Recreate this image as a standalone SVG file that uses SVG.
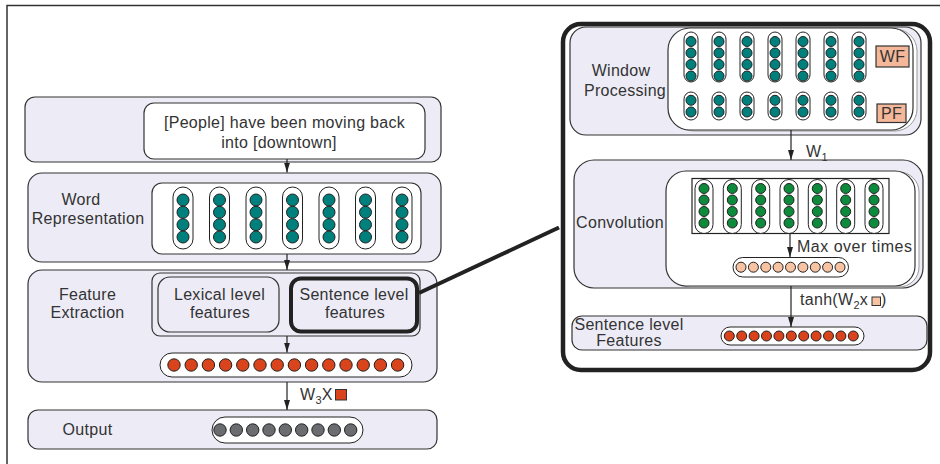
<svg xmlns="http://www.w3.org/2000/svg" xmlns:xlink="http://www.w3.org/1999/xlink" width="940" height="464" viewBox="0 0 940 464">
<style>
text{font-family:"Liberation Sans","DejaVu Sans",Arial,sans-serif;font-size:16px;fill:#333;letter-spacing:0.3px}
.mid{text-anchor:middle}
.sub{font-size:11px}
.lav{fill:#EDECF6;stroke:#333;stroke-width:1.2}
.wht{fill:#fff;stroke:#333;stroke-width:1.2}
.shd{fill:#fff;stroke:#999;stroke-width:1}
.pill{fill:#fff;stroke:#222;stroke-width:1}
.teal{fill:#00807C;stroke:#222;stroke-width:1}
.grn{fill:#0D8A3C;stroke:#222;stroke-width:1}
.red{fill:#D9441C;stroke:#222;stroke-width:1}
.gry{fill:#6B6C70;stroke:#222;stroke-width:1}
.pch{fill:#F7C3A3;stroke:#222;stroke-width:1}
.tag{fill:#F4B799;stroke:#333;stroke-width:1.2}
.arr{stroke:#222;stroke-width:1.2;fill:none;marker-end:url(#ah)}
</style>
<defs>
<marker id="ah" viewBox="0 0 10 6" refX="10" refY="3" markerWidth="10" markerHeight="6" markerUnits="userSpaceOnUse" orient="auto"><path d="M0,0 L10,3 L0,6 z" fill="#222"/></marker>
<g id="wcol"><rect x="-10" y="0" width="20" height="62" rx="10" class="pill"/><circle cy="13" r="6" class="teal"/><circle cy="25.3" r="6" class="teal"/><circle cy="37.7" r="6" class="teal"/><circle cy="50" r="6" class="teal"/></g>
<g id="wincol"><rect x="-7" y="0" width="14" height="50" rx="7" class="pill"/><circle cy="9.5" r="5" class="teal"/><circle cy="21" r="5" class="teal"/><circle cy="32.5" r="5" class="teal"/><circle cy="44" r="5" class="teal"/></g>
<g id="poscol"><rect x="-7" y="0" width="14" height="28" rx="7" class="pill"/><circle cy="8.3" r="5" class="teal"/><circle cy="20" r="5" class="teal"/></g>
<g id="convcol"><rect x="-9" y="0" width="18" height="54" rx="9" class="pill"/><circle cy="9" r="5" class="grn"/><circle cy="20.5" r="5" class="grn"/><circle cy="32" r="5" class="grn"/><circle cy="43.5" r="5" class="grn"/></g>
</defs>

<path id="frame" d="M7,464 V5.5 H940" fill="none" stroke="#333" stroke-width="1.5"/>

<g id="n-input">
<rect x="25" y="97" width="416" height="65" rx="10" class="lav"/>
<rect x="144" y="103" width="281" height="56" rx="10" class="wht"/>
<text x="284.5" y="128" class="mid">[People] have been moving back</text>
<text x="279" y="147.5" class="mid">into [downtown]</text>
</g>

<g id="n-wordrep">
<rect x="28" y="173" width="413" height="89" rx="14" class="lav"/>
<text x="81" y="205" class="mid">Word</text>
<text x="88" y="224.3" class="mid">Representation</text>
<rect x="152" y="183" width="269" height="71" rx="10" class="wht"/>
<use xlink:href="#wcol" x="183" y="187"/>
<use xlink:href="#wcol" x="219.5" y="187"/>
<use xlink:href="#wcol" x="256" y="187"/>
<use xlink:href="#wcol" x="292.5" y="187"/>
<use xlink:href="#wcol" x="329" y="187"/>
<use xlink:href="#wcol" x="365.5" y="187"/>
<use xlink:href="#wcol" x="402" y="187"/>
</g>

<g id="n-feature">
<rect x="28" y="270" width="409" height="112" rx="14" class="lav"/>
<text x="87.5" y="300" class="mid">Feature</text>
<text x="87.5" y="318.3" class="mid">Extraction</text>
<rect x="152" y="273" width="268" height="63" rx="8" class="lav"/>
<g id="n-lexical">
<rect x="158" y="277" width="121" height="55" rx="12" class="lav"/>
<text x="219.5" y="300" class="mid">Lexical level</text>
<text x="220" y="318.3" class="mid">features</text>
</g>
<g id="n-sentence">
<rect x="291" y="278.5" width="126" height="53" rx="10" fill="#EDECF6" stroke="#222" stroke-width="4"/>
<text x="354" y="300" class="mid">Sentence level</text>
<text x="355" y="318.3" class="mid">features</text>
</g>
<rect x="160" y="353" width="252" height="24" rx="12" class="pill"/>
<circle cx="174" cy="365" r="6.2" class="red"/><circle cx="191.2" cy="365" r="6.2" class="red"/><circle cx="208.4" cy="365" r="6.2" class="red"/><circle cx="225.6" cy="365" r="6.2" class="red"/><circle cx="242.8" cy="365" r="6.2" class="red"/><circle cx="260" cy="365" r="6.2" class="red"/><circle cx="277.2" cy="365" r="6.2" class="red"/><circle cx="294.4" cy="365" r="6.2" class="red"/><circle cx="311.6" cy="365" r="6.2" class="red"/><circle cx="328.8" cy="365" r="6.2" class="red"/><circle cx="346" cy="365" r="6.2" class="red"/><circle cx="363.2" cy="365" r="6.2" class="red"/><circle cx="380.4" cy="365" r="6.2" class="red"/><circle cx="397.6" cy="365" r="6.2" class="red"/>
</g>

<g id="n-output">
<rect x="28" y="410" width="409" height="39" rx="10" class="lav"/>
<text x="87.5" y="435" class="mid">Output</text>
<rect x="212" y="417" width="151" height="26" rx="13" class="pill"/>
<circle cx="220" cy="430" r="6.2" class="gry"/><circle cx="236.3" cy="430" r="6.2" class="gry"/><circle cx="252.7" cy="430" r="6.2" class="gry"/><circle cx="269" cy="430" r="6.2" class="gry"/><circle cx="285.3" cy="430" r="6.2" class="gry"/><circle cx="301.7" cy="430" r="6.2" class="gry"/><circle cx="318" cy="430" r="6.2" class="gry"/><circle cx="334.3" cy="430" r="6.2" class="gry"/><circle cx="350.7" cy="430" r="6.2" class="gry"/>
</g>

<g id="n-detail">
<rect x="563" y="24" width="367" height="346" rx="18" fill="#fff" stroke="#222" stroke-width="4.5"/>
</g>

<g id="n-window">
<rect x="570" y="27" width="351" height="108" rx="16" class="lav"/>
<rect x="672" y="29" width="245" height="102" rx="22" class="shd"/>
<rect x="668" y="28" width="245" height="102" rx="22" class="wht"/>
<text x="621" y="76" class="mid">Window</text>
<text x="625" y="96" class="mid">Processing</text>
<use xlink:href="#wincol" x="691" y="32"/>
<use xlink:href="#wincol" x="719" y="32"/>
<use xlink:href="#wincol" x="747" y="32"/>
<use xlink:href="#wincol" x="775" y="32"/>
<use xlink:href="#wincol" x="803" y="32"/>
<use xlink:href="#wincol" x="831" y="32"/>
<use xlink:href="#wincol" x="859" y="32"/>
<use xlink:href="#poscol" x="691" y="92"/>
<use xlink:href="#poscol" x="719" y="92"/>
<use xlink:href="#poscol" x="747" y="92"/>
<use xlink:href="#poscol" x="775" y="92"/>
<use xlink:href="#poscol" x="803" y="92"/>
<use xlink:href="#poscol" x="831" y="92"/>
<use xlink:href="#poscol" x="859" y="92"/>
<rect x="876" y="46" width="33" height="21" class="tag"/>
<text x="892.5" y="62" class="mid">WF</text>
<rect x="877" y="104" width="29" height="18.5" class="tag"/>
<text x="891.5" y="119" class="mid">PF</text>
</g>

<g id="n-conv">
<rect x="574" y="160" width="349" height="128" rx="20" class="lav"/>
<rect x="670" y="172" width="249" height="115" rx="20" class="shd"/>
<rect x="666" y="171" width="249" height="115" rx="20" class="wht"/>
<text x="620" y="228.3" class="mid">Convolution</text>
<rect x="692" y="178.5" width="197" height="55" fill="#fff" stroke="#222" stroke-width="1.2"/>
<use xlink:href="#convcol" x="704" y="179.5"/>
<use xlink:href="#convcol" x="732.3" y="179.5"/>
<use xlink:href="#convcol" x="760.7" y="179.5"/>
<use xlink:href="#convcol" x="789" y="179.5"/>
<use xlink:href="#convcol" x="817.3" y="179.5"/>
<use xlink:href="#convcol" x="845.7" y="179.5"/>
<use xlink:href="#convcol" x="874" y="179.5"/>
<rect x="733" y="257.5" width="115.5" height="19.5" rx="9.75" class="pill"/>
<circle cx="741" cy="267.2" r="5" class="pch"/><circle cx="753.4" cy="267.2" r="5" class="pch"/><circle cx="765.8" cy="267.2" r="5" class="pch"/><circle cx="778.1" cy="267.2" r="5" class="pch"/><circle cx="790.5" cy="267.2" r="5" class="pch"/><circle cx="802.9" cy="267.2" r="5" class="pch"/><circle cx="815.3" cy="267.2" r="5" class="pch"/><circle cx="827.6" cy="267.2" r="5" class="pch"/><circle cx="840" cy="267.2" r="5" class="pch"/>
</g>

<g id="n-sentfeat">
<rect x="572" y="316" width="355" height="34" rx="10" class="lav"/>
<text x="629" y="330" class="mid">Sentence level</text>
<text x="629" y="346" class="mid">Features</text>
<rect x="721" y="327" width="143" height="18" rx="9" class="pill"/>
<circle cx="729.3" cy="336" r="5" class="red"/><circle cx="741.7" cy="336" r="5" class="red"/><circle cx="754.1" cy="336" r="5" class="red"/><circle cx="766.5" cy="336" r="5" class="red"/><circle cx="778.9" cy="336" r="5" class="red"/><circle cx="791.3" cy="336" r="5" class="red"/><circle cx="803.7" cy="336" r="5" class="red"/><circle cx="816.1" cy="336" r="5" class="red"/><circle cx="828.5" cy="336" r="5" class="red"/><circle cx="840.9" cy="336" r="5" class="red"/><circle cx="853.3" cy="336" r="5" class="red"/>
</g>

<g id="connectors">
<line x1="287" y1="159" x2="287" y2="172.5" class="arr"/>
<line x1="287" y1="254" x2="287" y2="270" class="arr"/>
<line x1="287" y1="336" x2="287" y2="352.5" class="arr"/>
<line x1="287" y1="382" x2="287" y2="410" class="arr"/>
<text x="300" y="400">W<tspan class="sub" dy="4">3</tspan><tspan dy="-4">X</tspan></text>
<rect x="335.5" y="389.5" width="11" height="10.5" fill="#D9441C" stroke="#333" stroke-width="1"/>
<line x1="419" y1="293" x2="559" y2="227.5" stroke="#222" stroke-width="4"/>
<line x1="791" y1="130" x2="791" y2="160" class="arr"/>
<text x="806" y="157">W<tspan class="sub" dy="4">1</tspan></text>
<line x1="790" y1="233.5" x2="790" y2="257" class="arr"/>
<text x="797" y="252" style="letter-spacing:0.5px">Max over times</text>
<line x1="791" y1="286" x2="791" y2="327" class="arr"/>
<text x="800" y="305">tanh(W<tspan class="sub" dy="4">2</tspan><tspan dy="-4">x</tspan></text>
<rect x="872" y="297" width="8.5" height="8.5" fill="#F7C3A3" stroke="#333" stroke-width="1"/>
<text x="881" y="305">)</text>
</g>
</svg>
